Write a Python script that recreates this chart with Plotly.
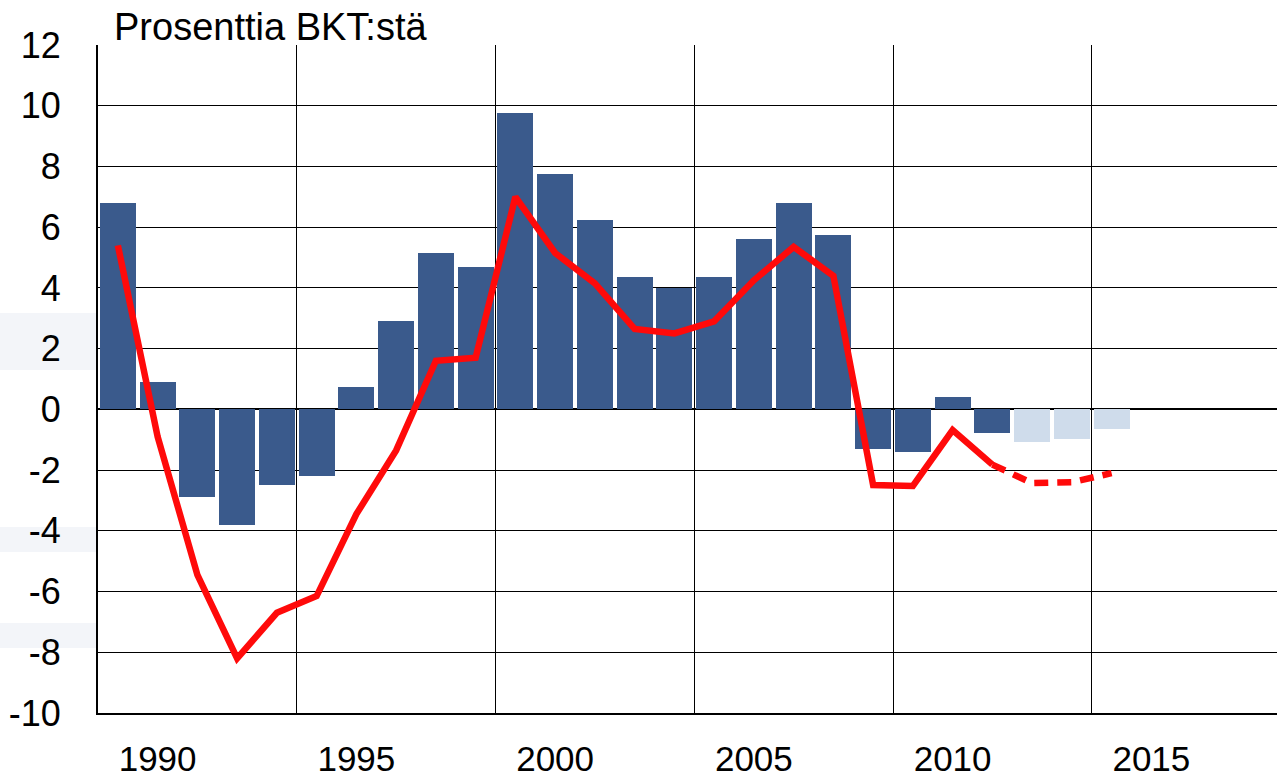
import plotly.graph_objects as go

years = list(range(1989, 2015))
current_account = [6.8, 0.9, -2.9, -3.8, -2.5, -2.2, 0.75, 2.9, 5.15, 4.7,
                   9.75, 7.75, 6.25, 4.35, 4.0, 4.35, 5.6, 6.8, 5.75, -1.3,
                   -1.4, 0.4, -0.77, -1.07, -0.97, -0.64]
public_balance = [5.4, -0.9, -5.45, -8.2, -6.7, -6.15, -3.45, -1.35, 1.6, 1.7,
                  7.0, 5.15, 4.15, 2.65, 2.5, 2.9, 4.25, 5.35, 4.4, -2.49,
                  -2.52, -0.68, -1.82, -2.43, -2.4, -2.1]
forecast_start = 2012
tick_years = [1990, 1995, 2000, 2005, 2010, 2015]
grid_years = [1988.5, 1993.5, 1998.5, 2003.5, 2008.5, 2013.5]
y_ticks = list(range(-10, 13, 2))
y_ticktext = [str(v) for v in y_ticks]  # ASCII hyphen-minus, as in the reference

DARK = "#3A5A8C"
LIGHT = "#CFDCEB"
RED = "#FF0A0A"
FONT = "Liberation Sans, Arial, sans-serif"

W, H = 1277, 778
L, T, B = 98, 45, 65
PW = W - L
PH = H - T - B

bar_colors = [LIGHT if y >= forecast_start else DARK for y in years]

solid_idx = [i for i, y in enumerate(years) if y <= forecast_start - 1]
dash_idx = [i for i, y in enumerate(years) if y >= forecast_start - 1]

fig = go.Figure()
fig.add_trace(go.Bar(x=years, y=current_account, marker=dict(color=bar_colors, line=dict(width=0)),
                     width=0.91, showlegend=False, hoverinfo="x+y"))
fig.add_trace(go.Scatter(x=[years[i] for i in solid_idx], y=[public_balance[i] for i in solid_idx],
                         mode="lines", line=dict(color=RED, width=6.5), showlegend=False))
fig.add_trace(go.Scatter(x=[years[i] for i in dash_idx], y=[public_balance[i] for i in dash_idx],
                         mode="lines", line=dict(color=RED, width=6.5, dash="14px,9px"), showlegend=False))

# faint decorative bands in the left background (slide template)
bands = [(313, 370), (527, 552), (623, 648)]
shapes = []
for top, bot in bands:
    shapes.append(dict(type="rect", xref="paper", yref="paper", layer="below",
                       x0=-L / PW, x1=0, y0=1 - (bot - T) / PH, y1=1 - (top - T) / PH,
                       fillcolor="#F3F5F9", line=dict(width=0)))

fig.update_layout(
    width=W, height=H,
    margin=dict(l=L, r=0, t=T, b=B, autoexpand=False),
    paper_bgcolor="white", plot_bgcolor="white",
    font=dict(family=FONT, size=36, color="black"),
    title=dict(text="Prosenttia BKT:stä", x=114 / W, xanchor="left", xref="container",
               y=1 - 27 / H, yanchor="middle", yref="container",
               font=dict(family=FONT, size=38, color="black")),
    bargap=0,
    shapes=shapes,
)
fig.update_xaxes(
    range=[1988.5, 1988.5 + PW / 39.75], automargin=False,
    tickmode="array", tickvals=tick_years, ticktext=[str(t) for t in tick_years],
    showgrid=False, zeroline=False, ticks="",
    showline=True, linecolor="black", linewidth=2,
    ticklabelstandoff=14,
    minor=dict(tickmode="array", tickvals=grid_years, showgrid=True, gridcolor="black", gridwidth=1, ticks=""),
    tickfont=dict(family=FONT, size=35, color="black"),
)
fig.update_yaxes(
    range=[-10, 12], automargin=False,
    tickmode="array", tickvals=y_ticks, ticktext=y_ticktext,
    showgrid=True, gridcolor="black", gridwidth=1,
    zeroline=True, zerolinecolor="black", zerolinewidth=2,
    showline=True, linecolor="black", linewidth=2, ticks="",
    ticklabelstandoff=28,
    tickfont=dict(family=FONT, size=36, color="black"),
)

fig.write_html("out.html", config={"displayModeBar": False},
               post_script="document.body.style.margin='0';document.body.style.overflow='hidden';")
